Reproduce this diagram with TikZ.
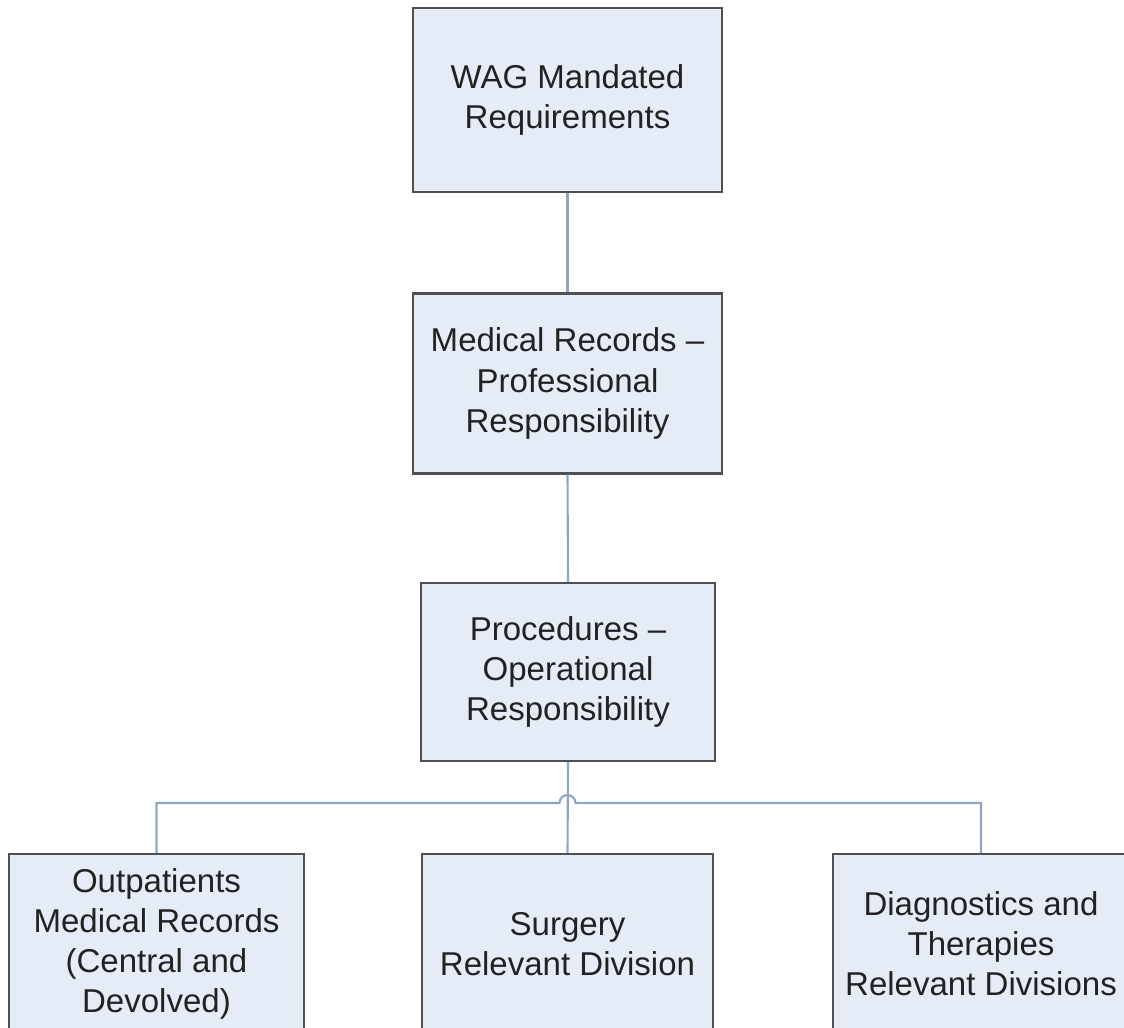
\documentclass[tikz,border=0pt]{standalone}
\usepackage{fontspec}
\setmainfont{Liberation Sans}
\usetikzlibrary{positioning}
\definecolor{boxfill}{HTML}{E6ECF6}
\definecolor{boxline}{HTML}{505050}
\definecolor{linkcol}{HTML}{8FA5C3}
\definecolor{textcol}{HTML}{222222}
\tikzstyle{block} = [draw=boxline, fill=boxfill, rectangle, line width=1.2pt, align=center, minimum height=3.6cm, text=textcol, font=\fontsize{18.8}{22.8}\selectfont]
\tikzstyle{link} = [draw=linkcol, line width=1.2pt]

\begin{document}
\begin{tikzpicture}[x=0.02cm, y=-0.02cm]
    \clip (0,0) rectangle (1124,1027);
    \node[block, minimum width=6.18cm, minimum height=3.68cm] (wag) at (567.5,100) {WAG Mandated\\Requirements};
    \node[block, minimum width=6.18cm] (med) at (567.5,383.5) {Medical Records --\\Professional\\Responsibility};
    \node[block, minimum width=5.88cm, minimum height=3.56cm] (proc) at (568,672) {Procedures --\\Operational\\Responsibility};
    \node[block, minimum width=5.9cm] (outp) at (156.5,944) {Outpatients\\Medical Records\\(Central and\\Devolved)};
    \node[block, minimum width=5.82cm] (surg) at (567.5,944) {Surgery\\Relevant Division};
    \node[block, minimum width=5.92cm] (diag) at (981,944) {Diagnostics and\\Therapies\\Relevant Divisions};
    \coordinate (bus) at (567.5,803);
    \draw[link] (wag.south) -- (med.north);
    \draw[link] (med.south) -- (proc.north);
    \draw[link] (proc.south) -- (surg.north);
    \draw[link] (outp.north) |- ([xshift=-0.16cm]bus) arc[start angle=180, end angle=0, radius=0.16cm] -| (diag.north);
\end{tikzpicture}
\end{document}
